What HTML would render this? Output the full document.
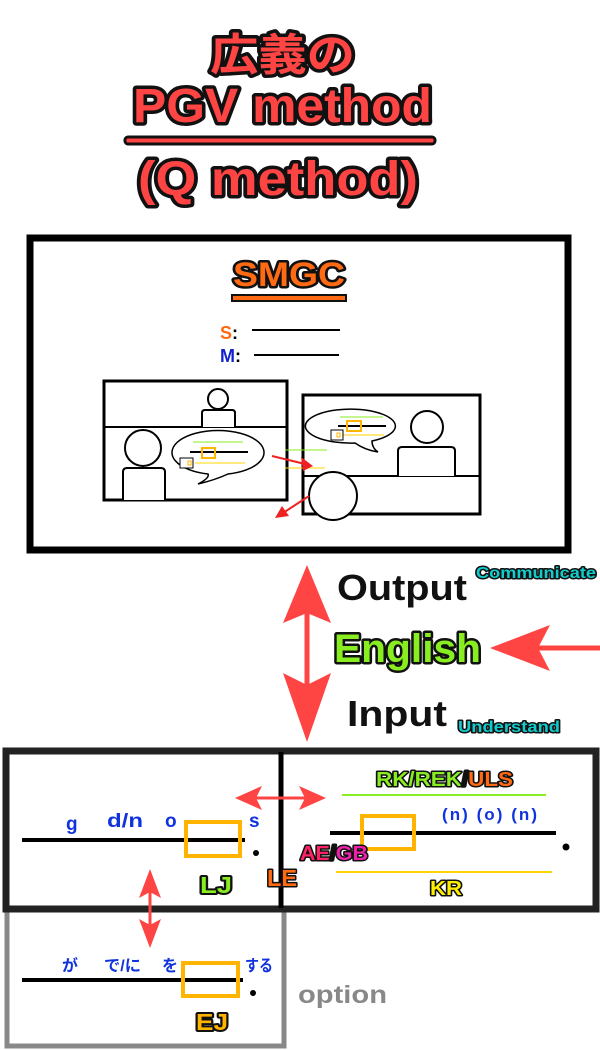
<!DOCTYPE html>
<html><head><meta charset="utf-8"><style>
html,body{margin:0;padding:0;background:#fff;}
svg{display:block;}
text{font-family:"Liberation Sans","Noto Sans CJK JP",sans-serif;font-weight:bold;}
.o{paint-order:stroke;stroke:#111;stroke-linejoin:round;}
</style></head><body>
<svg width="600" height="1050" viewBox="0 0 600 1050" xmlns="http://www.w3.org/2000/svg">
<!-- Title -->
<text x="210" y="70" font-size="44" fill="#ff4444" class="o" stroke-width="7" textLength="145" lengthAdjust="spacingAndGlyphs">広義の</text>
<text x="133" y="122" font-size="48" fill="#ff4444" class="o" stroke-width="7" textLength="299" lengthAdjust="spacingAndGlyphs">PGV method</text>
<rect x="125" y="137" width="310" height="7" rx="3" fill="#ff4444" stroke="#111" stroke-width="3"/>
<text x="138" y="195" font-size="48" fill="#ff4444" class="o" stroke-width="7" textLength="280" lengthAdjust="spacingAndGlyphs">(Q method)</text>

<!-- Big box -->
<rect x="30" y="238" width="538" height="312" fill="none" stroke="#000" stroke-width="7"/>
<text x="233" y="286" font-size="34" fill="#ff6a13" class="o" stroke-width="5" textLength="112" lengthAdjust="spacingAndGlyphs">SMGC</text>
<rect x="232" y="295" width="114" height="6" fill="#ff6a13" stroke="#111" stroke-width="2"/>
<text x="220" y="339" font-size="18" fill="#ff6a13">S<tspan fill="#000">:</tspan></text>
<line x1="252" y1="330" x2="340" y2="330" stroke="#000" stroke-width="2"/>
<text x="220" y="362" font-size="18" fill="#1122cc">M<tspan fill="#000">:</tspan></text>
<line x1="254" y1="355" x2="339" y2="355" stroke="#000" stroke-width="2"/>

<!-- left picture -->
<rect x="104" y="381" width="183" height="119" fill="#fff" stroke="#000" stroke-width="3"/>
<line x1="104" y1="427" x2="287" y2="427" stroke="#000" stroke-width="2"/>
<circle cx="218" cy="399" r="10" fill="#fff" stroke="#000" stroke-width="2"/>
<path d="M202 427 V413 Q202 410 205 410 H232 Q235 410 235 413 V427" fill="#fff" stroke="#000" stroke-width="2"/>
<circle cx="143" cy="448" r="18" fill="#fff" stroke="#000" stroke-width="2"/>
<path d="M123 500 V472 Q123 468 127 468 H161 Q165 468 165 472 V500" fill="#fff" stroke="#000" stroke-width="2"/>
<path d="M208 474 A46 22 0 1 1 228 474 Q215 480 198 484 Q210 478 208 474 Z" fill="#fff" stroke="#000" stroke-width="1.5"/>
<line x1="193" y1="442" x2="243" y2="442" stroke="#88ee22" stroke-width="1"/>
<line x1="190" y1="452" x2="248" y2="452" stroke="#000" stroke-width="2"/>
<rect x="202" y="448" width="13" height="10" fill="none" stroke="#ffb400" stroke-width="2"/>
<line x1="195" y1="463" x2="245" y2="463" stroke="#ffd400" stroke-width="1"/>
<rect x="180" y="458" width="13" height="10" fill="#fff" stroke="#000" stroke-width="1"/>
<rect x="188" y="461" width="3" height="4" fill="none" stroke="#ffb400" stroke-width="1"/>

<!-- right picture -->
<rect x="303" y="395" width="177" height="119" fill="#fff" stroke="#000" stroke-width="3"/>
<line x1="303" y1="476" x2="480" y2="476" stroke="#000" stroke-width="2"/>
<circle cx="427" cy="427" r="16" fill="#fff" stroke="#000" stroke-width="2"/>
<path d="M398 476 V451 Q398 447 402 447 H451 Q455 447 455 451 V476" fill="#fff" stroke="#000" stroke-width="2"/>
<circle cx="333" cy="496" r="24" fill="#fff" stroke="#000" stroke-width="2"/>
<path d="M355 443 A45 17 0 1 1 372 441 Q372 448 378 452 Q365 450 355 443 Z" fill="#fff" stroke="#000" stroke-width="1.5"/>
<line x1="340" y1="417" x2="383" y2="417" stroke="#88ee22" stroke-width="1"/>
<line x1="338" y1="426" x2="386" y2="426" stroke="#000" stroke-width="2"/>
<rect x="347" y="421" width="14" height="10" fill="none" stroke="#ffb400" stroke-width="2"/>
<line x1="343" y1="435" x2="384" y2="435" stroke="#ffd400" stroke-width="1"/>
<rect x="331" y="430" width="12" height="10" fill="#fff" stroke="#000" stroke-width="1"/>
<rect x="337" y="433" width="3" height="4" fill="none" stroke="#ffb400" stroke-width="1"/>

<line x1="285" y1="450" x2="327" y2="450" stroke="#88ee22" stroke-width="1"/>
<line x1="285" y1="468" x2="325" y2="468" stroke="#ffd400" stroke-width="1"/>
<line x1="272" y1="456" x2="305" y2="464" stroke="#ee2222" stroke-width="2"/>
<path d="M313 466 L301 457 L303 471 Z" fill="#ee2222"/>
<line x1="309" y1="496" x2="283" y2="513" stroke="#ee2222" stroke-width="2"/>
<path d="M275 518 L282 506 L289 516 Z" fill="#ee2222"/>

<!-- vertical big arrow -->
<line x1="307" y1="600" x2="307" y2="710" stroke="#ff4444" stroke-width="5"/>
<path d="M307 565 L331 623 L307 613 L283 623 Z" fill="#ff4444"/>
<path d="M307 742 L331 673 L307 685 L283 673 Z" fill="#ff4444"/>

<text x="337" y="600" font-size="36" fill="#111" textLength="130" lengthAdjust="spacingAndGlyphs">Output</text>
<text x="476" y="578" font-size="16" fill="#11cccc" class="o" stroke-width="3" textLength="120" lengthAdjust="spacingAndGlyphs">Communicate</text>
<text x="334" y="662" font-size="40" fill="#88ee22" class="o" stroke-width="5" textLength="147" lengthAdjust="spacingAndGlyphs">English</text>
<line x1="530" y1="648" x2="600" y2="648" stroke="#ff4444" stroke-width="5"/>
<path d="M490 648 L550 625 L538 648 L550 671 Z" fill="#ff4444"/>
<text x="347" y="726" font-size="36" fill="#111" textLength="100" lengthAdjust="spacingAndGlyphs">Input</text>
<text x="458" y="732" font-size="16" fill="#11cccc" class="o" stroke-width="3" textLength="102" lengthAdjust="spacingAndGlyphs">Understand</text>

<!-- bottom boxes -->
<rect x="7" y="910" width="277" height="136" fill="none" stroke="#888" stroke-width="5"/>
<rect x="6" y="751" width="590" height="158" fill="none" stroke="#222" stroke-width="7"/>
<line x1="281" y1="752" x2="281" y2="908" stroke="#000" stroke-width="5"/>

<!-- horizontal double arrow -->
<line x1="250" y1="798" x2="310" y2="798" stroke="#ff4444" stroke-width="3"/>
<path d="M235 798 L262 786 L256 798 L262 810 Z" fill="#ff4444"/>
<path d="M326 798 L299 786 L305 798 L299 810 Z" fill="#ff4444"/>

<!-- left sentence -->
<g font-size="19" fill="#1133dd">
<text x="66" y="830">g</text><text x="107" y="827" textLength="36" lengthAdjust="spacingAndGlyphs">d/n</text><text x="165" y="827">o</text><text x="249" y="827">s</text>
</g>
<line x1="22" y1="840" x2="245" y2="840" stroke="#000" stroke-width="4"/>
<rect x="186" y="822" width="54" height="34" fill="none" stroke="#ffb400" stroke-width="4"/>
<circle cx="256" cy="853" r="3" fill="#000"/>
<text x="200" y="893" font-size="23" fill="#88ee22" class="o" stroke-width="4" textLength="32" lengthAdjust="spacingAndGlyphs">LJ</text>
<text x="267" y="886" font-size="23" fill="#ff6a13" class="o" stroke-width="3" textLength="30" lengthAdjust="spacingAndGlyphs">LE</text>

<!-- right sentence -->
<text x="376" y="786" font-size="20" fill="#88ee22" class="o" stroke-width="3" textLength="137" lengthAdjust="spacingAndGlyphs">RK/REK<tspan fill="#111">/</tspan><tspan fill="#ff6a13">ULS</tspan></text>
<line x1="342" y1="795" x2="546" y2="795" stroke="#88ee22" stroke-width="2"/>
<text x="442" y="820" font-size="17" fill="#1133dd" textLength="95" lengthAdjust="spacing">(n)  (o)  (n)</text>
<line x1="330" y1="833" x2="556" y2="833" stroke="#000" stroke-width="4"/>
<rect x="362" y="816" width="52" height="33" fill="none" stroke="#ffb400" stroke-width="4"/>
<text x="300" y="860" font-size="20" fill="#ff2266" class="o" stroke-width="3" textLength="68" lengthAdjust="spacingAndGlyphs">AE<tspan fill="#111">/</tspan><tspan fill="#ee22aa">GB</tspan></text>
<circle cx="566" cy="847" r="3.5" fill="#000"/>
<line x1="336" y1="872" x2="552" y2="872" stroke="#ffd400" stroke-width="2"/>
<text x="430" y="895" font-size="20" fill="#ffee00" class="o" stroke-width="3" textLength="32" lengthAdjust="spacingAndGlyphs">KR</text>

<!-- vertical double arrow -->
<line x1="150" y1="885" x2="150" y2="935" stroke="#ff4444" stroke-width="3"/>
<path d="M150 869 L161 898 L150 892 L139 898 Z" fill="#ff4444"/>
<path d="M150 948 L161 919 L150 925 L139 919 Z" fill="#ff4444"/>

<!-- Japanese sentence -->
<g font-size="16" fill="#1133dd">
<text x="62" y="971">が</text><text x="104" y="971" textLength="37" lengthAdjust="spacingAndGlyphs">で/に</text><text x="162" y="971">を</text><text x="245" y="971" textLength="28" lengthAdjust="spacingAndGlyphs">する</text>
</g>
<line x1="22" y1="980" x2="243" y2="980" stroke="#000" stroke-width="4"/>
<rect x="183" y="963" width="55" height="33" fill="none" stroke="#ffb400" stroke-width="4"/>
<circle cx="253" cy="993" r="3" fill="#000"/>
<text x="196" y="1030" font-size="23" fill="#ffb400" class="o" stroke-width="4" textLength="32" lengthAdjust="spacingAndGlyphs">EJ</text>
<text x="298" y="1003" font-size="25" fill="#888" textLength="89" lengthAdjust="spacingAndGlyphs">option</text>
</svg>
</body></html>
